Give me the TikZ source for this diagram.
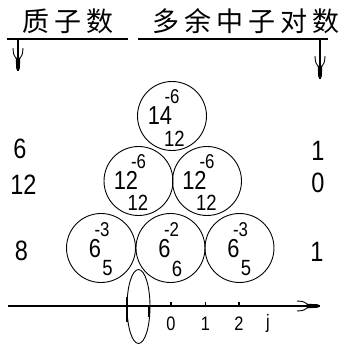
\documentclass[tikz,border=0pt]{standalone}
\usepackage{fontspec}
\setmainfont{Liberation Sans}
\newfontfamily\numf[FakeStretch=0.84]{Liberation Sans}
\newfontfamily\cjk{Noto Sans CJK SC}
\begin{document}
\begin{tikzpicture}[x=1pt,y=-1pt,
  ring/.style={circle,draw,line width=0.9pt,minimum size=69pt,inner sep=0pt},
  mainn/.style={inner sep=0pt,font=\numf\fontsize{26}{26}\selectfont},
  supn/.style={inner sep=0pt,font=\numf\fontsize{20}{20}\selectfont},
  subn/.style={inner sep=0pt,font=\numf\fontsize{22}{22}\selectfont},
  sidenum/.style={inner sep=0pt,font=\numf\fontsize{28}{28}\selectfont},
  axlab/.style={inner sep=0pt,font=\numf\fontsize{19.5}{19.5}\selectfont},
  head/.style={inner sep=0pt,anchor=west,font=\cjk\fontsize{27}{27}\selectfont},
  rule/.style={line width=1.3pt},
  stem/.style={line width=1.1pt},
  barbdown/.pic={
    \draw[line width=0.9pt] (-5,-23) .. controls (-4.5,-16) .. (-1,-12);
    \draw[line width=0.9pt] (5,-23) .. controls (4.5,-16) .. (1,-12);
    \fill (-2.3,-13) -- (2.3,-13) -- (1.7,-2) -- (0,0) -- (-1.7,-2) -- cycle;
  },
  barbright/.pic={
    \draw[line width=0.9pt] (-23,-5) .. controls (-16,-4.5) .. (-12,-1);
    \draw[line width=0.9pt] (-23,5) .. controls (-16,4.5) .. (-12,1);
    \fill (-13,-2.3) -- (-13,2.3) -- (-2,1.7) -- (0,0) -- (-2,-1.7) -- cycle;
  }]
\useasboundingbox (0,0) rectangle (339,349);

% headers
\node[head] (h1) at (22,21.5) {质\hspace{5pt}子\hspace{5pt}数};
\node[head] (h2) at (152,21.5) {多\hspace{5pt}余\hspace{5pt}中\hspace{5pt}子\hspace{5pt}对\hspace{5pt}数};
\coordinate (u1a) at (7,39); \coordinate (u1b) at (128,39);
\coordinate (u2a) at (138,39); \coordinate (u2b) at (328,39);
\draw[rule] (u1a) -- (u1b);
\draw[rule] (u2a) -- (u2b);

% down arrows
\coordinate (a1s) at (18,39); \coordinate (a1e) at (18,71);
\coordinate (a2s) at (320,39); \coordinate (a2e) at (320,79);
\draw[stem] (a1s) -- (a1e);
\draw[stem] (a2s) -- (a2e);
\pic at (a1e) {barbdown};
\pic at (a2e) {barbdown};

% side numbers
\node[sidenum] (l1) at (20,149) {6};
\node[sidenum] (l2) at (23.5,185) {12};
\node[sidenum] (l3) at (21.5,251) {8};
\node[sidenum] (r1) at (318,151) {1};
\node[sidenum] (r2) at (318,183) {0};
\node[sidenum] (r3) at (317,252) {1};

% circles
\node[ring] (c1) at (172,116) {};
\node[ring] (c21) at (138.5,181) {};
\node[ring] (c22) at (207,181) {};
\node[ring] (c31) at (101,248) {};
\node[ring] (c32) at (170.5,248) {};
\node[ring] (c33) at (239.5,248) {};

% top
\node[mainn] (t1m) at (160,116) {14};
\node[supn]  (t1p) at (172,96.5) {-6};
\node[subn]  (t1b) at (174.5,139) {12};
% row 2
\node[mainn] (t21m) at (126,180.5) {12};
\node[supn]  (t21p) at (138.5,161.5) {-6};
\node[subn]  (t21b) at (138,203) {12};
\node[mainn] (t22m) at (194.5,180.5) {12};
\node[supn]  (t22p) at (207,161.5) {-6};
\node[subn]  (t22b) at (206.5,203) {12};
% row 3
\node[mainn] (t31m) at (95,248.5) {6};
\node[supn]  (t31p) at (102,230) {-3};
\node[subn]  (t31b) at (107.5,268.5) {5};
\node[mainn] (t32m) at (164.5,248.5) {6};
\node[supn]  (t32p) at (171.5,230) {-2};
\node[subn]  (t32b) at (177,268.5) {6};
\node[mainn] (t33m) at (233.5,248.5) {6};
\node[supn]  (t33p) at (240.5,230) {-3};
\node[subn]  (t33b) at (246,268.5) {5};

% axis
\coordinate (ax0) at (8,306); \coordinate (ax1) at (320,306);
\draw[stem] (ax0) -- (ax1);
\pic at (ax1) {barbright};
\coordinate (tk0a) at (127,297); \coordinate (tk0b) at (127,322);
\draw[line width=1.1pt] (tk0a) -- (tk0b);
\coordinate (tkpa) at (149,306); \coordinate (tkpb) at (149,317);
\draw[line width=2.8pt] (tkpa) -- (tkpb);
\foreach \n/\x in {0/171,1/205.5,2/239}{
  \coordinate (tk\n a) at (\x,302); \coordinate (tk\n b) at (\x,306);
  \draw[line width=1.5pt] (tk\n a) -- (tk\n b);
  \node[axlab] (lab\n) at (\x,323.5) {\n};
}
\node[axlab] (labj) at (268,323) {j};
\coordinate (ec) at (138.5,306.5);
\draw[line width=0.9pt] (ec) ellipse [x radius=11.5, y radius=37];
\end{tikzpicture}
\end{document}
